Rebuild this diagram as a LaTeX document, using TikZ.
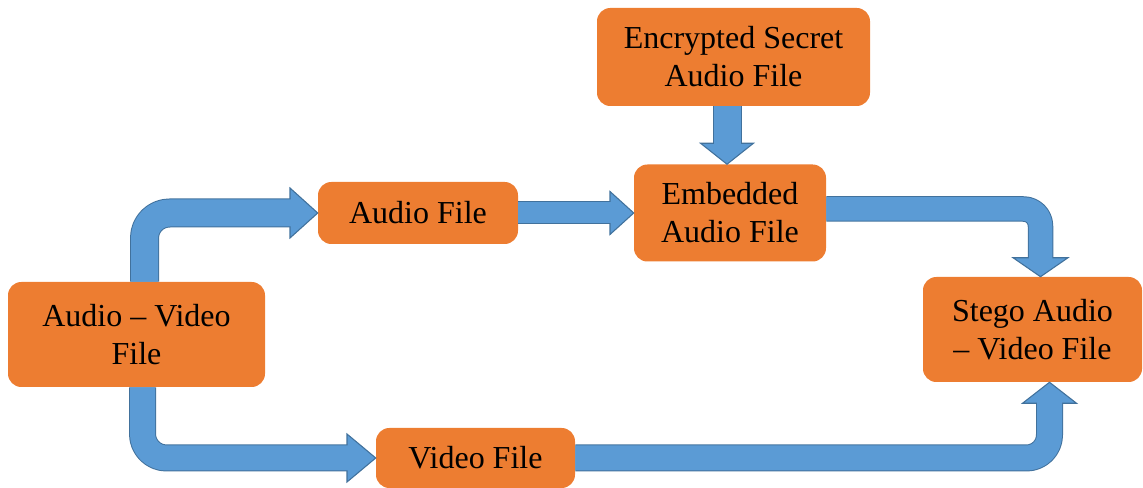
\documentclass[tikz,border=0pt]{standalone}
\usepackage{fontspec}
\setmainfont{Liberation Serif}
\usetikzlibrary{calc}
\definecolor{boxorange}{HTML}{ED7D31}
\definecolor{arrowfill}{HTML}{5B9BD5}
\definecolor{arrowedge}{HTML}{41719C}

\begin{document}
\begin{tikzpicture}[x=0.75pt,y=0.75pt,
  box/.style={fill=boxorange, rounded corners=10pt, inner sep=0pt, align=center,
    font=\fontsize{24}{28.5}\selectfont, text=black},
  shaftedge/.style={draw=arrowedge, line cap=butt, line join=round, line width=#1*0.75pt+1.5pt},
  shaftfill/.style={draw=arrowfill, line cap=butt, line join=round, line width=#1*0.75pt},
  arrowhd/.style={fill=arrowfill, draw=arrowedge, line width=0.8pt, line join=miter},
]
\useasboundingbox (0,0) rectangle (1143,488);

% boxes
\node[box, minimum width=273*0.75pt, minimum height=98*0.75pt] (enc) at (733.5,431) {Encrypted Secret\\Audio File};
\node[box, minimum width=192*0.75pt, minimum height=97*0.75pt] (emb) at (730,275) {Embedded\\Audio File};
\node[box, minimum width=200*0.75pt, minimum height=62*0.75pt] (af) at (418,275) {Audio File};
\node[box, minimum width=257*0.75pt, minimum height=105*0.75pt] (av) at (136.5,153.5) {Audio -- Video\\File};
\node[box, minimum width=219*0.75pt, minimum height=105*0.75pt] (stego) at (1032.5,158.5) {Stego Audio\\-- Video File};
\node[box, minimum width=199*0.75pt, minimum height=60*0.75pt] (vf) at (475.5,30) {Video File};

% Audio - Video File -> Audio File
\coordinate (a1s) at (144.5,0 |- av.north);
\coordinate (a1b) at (290,0 |- af.west);
\draw[arrowhd] (af.west) -- ($(a1b)+(0,25)$) -- ($(a1b)+(0,-25)$) -- cycle;
\draw[shaftedge=27, rounded corners=18.75pt] (a1s) |- (a1b);
\draw[shaftfill=27, rounded corners=18.75pt] (a1s) |- ($(a1b)+(2,0)$);

% Audio - Video File -> Video File
\coordinate (a2s) at (142.5,0 |- av.south);
\coordinate (a2b) at (347,0 |- vf.west);
\draw[arrowhd] (vf.west) -- ($(a2b)+(0,24)$) -- ($(a2b)+(0,-24)$) -- cycle;
\draw[shaftedge=25, rounded corners=18pt] (a2s) |- (a2b);
\draw[shaftfill=25, rounded corners=18pt] (a2s) |- ($(a2b)+(2,0)$);

% Audio File -> Embedded Audio File
\coordinate (a3b) at (610,0 |- emb.west);
\draw[arrowhd] (emb.west) -- ($(a3b)+(0,21.5)$) -- ($(a3b)+(0,-21.5)$) -- cycle;
\draw[shaftedge=21] (af.east) -- (a3b);
\draw[shaftfill=21] (af.east) -- ($(a3b)+(2,0)$);

% Encrypted Secret Audio File -> Embedded Audio File
\coordinate (a4s) at (727,0 |- enc.south);
\coordinate (a4t) at (727,0 |- emb.north);
\coordinate (a4b) at ($(a4t)+(0,21)$);
\draw[arrowhd] (a4t) -- ($(a4b)+(-26.5,0)$) -- ($(a4b)+(26.5,0)$) -- cycle;
\draw[shaftedge=27] (a4s) -- (a4b);
\draw[shaftfill=27] (a4s) -- ($(a4b)+(0,-2)$);

% Embedded Audio File -> Stego Audio - Video File
\coordinate (a5s) at ($(emb.east)+(0,4)$);
\coordinate (a5t) at (1040.5,0 |- stego.north);
\coordinate (a5b) at ($(a5t)+(0,19)$);
\draw[arrowhd] (a5t) -- ($(a5b)+(-27.5,0)$) -- ($(a5b)+(27.5,0)$) -- cycle;
\draw[shaftedge=23.5, rounded corners=12.75pt] (a5s) -| (a5b);
\draw[shaftfill=23.5, rounded corners=12.75pt] (a5s) -| ($(a5b)+(0,-2)$);

% Video File -> Stego Audio - Video File
\coordinate (a6t) at (1049.5,0 |- stego.south);
\coordinate (a6b) at ($(a6t)+(0,-21)$);
\draw[arrowhd] (a6t) -- ($(a6b)+(-27,0)$) -- ($(a6b)+(27,0)$) -- cycle;
\draw[shaftedge=25, rounded corners=17.25pt] (vf.east) -| (a6b);
\draw[shaftfill=25, rounded corners=17.25pt] (vf.east) -| ($(a6b)+(0,2)$);
\end{tikzpicture}
\end{document}
